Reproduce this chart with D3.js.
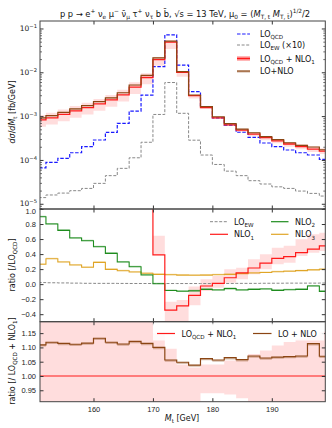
<!doctype html>
<html>
<head>
<meta charset="utf-8"/>
<script src="https://d3js.org/d3.v7.min.js"></script>
<style>
    html, body { margin: 0; padding: 0; background: #fff; }
    svg { display: block; font-family: "DejaVu Sans", sans-serif; }
    .tick text { font-size: 7.5px; fill: #222; }
    .tick line { stroke: #333; }
    .domain { display: none; }
</style>
</head>
<body>
<svg id="chart" width="332" height="428"></svg>
<script>
// bin edges, M_t in GeV
var binEdges = [150, 152, 154, 156, 158, 160, 162, 164, 166, 168, 170, 172, 174,
                176, 178, 180, 182, 184, 186, 188, 190, 192, 194, 196, 198, 200];

// top panel, dsigma/dM_t [fb/GeV]
var loQCD = [6.8e-5, 9.0e-5, 1.12e-4, 1.5e-4, 2.07e-4, 2.93e-4, 4.35e-4, 7.0e-4, 1.34e-3, 3.1e-3,
             1.38e-2, 7.35e-2, 1.5e-2, 3.7e-3, 1.68e-3, 9.4e-4, 6.4e-4, 4.4e-4, 3.36e-4, 2.5e-4,
             2.06e-4, 1.73e-4, 1.5e-4, 1.33e-4, 1.06e-4];
var loEWx10 = [1.42e-5, 1.63e-5, 1.8e-5, 2.04e-5, 2.3e-5, 3.0e-5, 4.5e-5, 6.6e-5, 1.15e-4, 2.6e-4,
               1.12e-3, 6.0e-3, 1.19e-3, 2.9e-4, 1.33e-4, 8.1e-5, 5.7e-5, 4.5e-5, 3.45e-5, 2.9e-5,
               2.5e-5, 2.3e-5, 2.0e-5, 1.77e-5, 1.54e-5];
var loQCDnlo1 = [8.4e-4, 9.4e-4, 1.12e-3, 1.35e-3, 1.6e-3, 1.95e-3, 2.4e-3, 3.15e-3, 4.7e-3, 7.8e-3,
                 2.0e-2, 5.0e-2, 1.02e-2, 3.0e-3, 1.6e-3, 9.4e-4, 6.5e-4, 4.9e-4, 4.0e-4, 3.3e-4,
                 2.8e-4, 2.37e-4, 2.06e-4, 1.82e-4, 1.64e-4];
// scale band of LO_QCD + NLO_1, relative to its central value
var bandUp = [1.30, 1.30, 1.30, 1.30, 1.30, 1.30, 1.30, 1.30, 1.30, 1.25,
              1.15, 1.095, 1.04, 1.03, 1.04, 1.04, 1.054, 1.054, 1.077, 1.089,
              1.107, 1.119, 1.131, 1.143, 1.155];
var bandDn = [0.70, 0.70, 0.70, 0.70, 0.70, 0.70, 0.70, 0.70, 0.70, 0.70,
              0.72, 0.70, 0.80, 0.86, 0.94, 0.94, 0.935, 0.922, 0.89, 0.88,
              0.88, 0.87, 0.87, 0.86, 0.86];

// bottom panel, (LO + NLO) / (LO_QCD + NLO_1)
var ratioFull = [1.109, 1.118, 1.114, 1.111, 1.115, 1.132, 1.118, 1.112, 1.121, 1.114,
                 1.100, 1.056, 1.048, 1.038, 1.061, 1.056, 1.064, 1.057, 1.070, 1.063,
                 1.066, 1.068, 1.070, 1.113, 1.069];

// middle panel, ratios to LO_QCD
var nlo1 = [11.3, 9.4, 9.0, 8.0, 6.7, 5.7, 4.5, 3.5, 2.5, 1.5,
            0.39, -0.345, -0.29, -0.15, -0.025, 0.01, 0.085, 0.15, 0.215, 0.28,
            0.343, 0.365, 0.42, 0.465, 0.51];
var nlo1Lo = [9.0, 7.5, 7.2, 6.4, 5.4, 4.6, 3.6, 2.8, 2.0, 1.1,
              0.39, -0.6, -0.6, -0.28, -0.092, -0.048, 0.019, 0.064, 0.13, 0.197,
              0.264, 0.285, 0.374, 0.418, 0.44];
var nlo1Hi = [13.6, 11.3, 10.8, 9.6, 8.0, 6.8, 5.4, 4.2, 3.0, 1.8,
              0.645, -0.235, -0.21, -0.03, 0.064, 0.108, 0.197, 0.218, 0.33, 0.397,
              0.485, 0.51, 0.597, 0.663, 0.685];
var nlo2 = [0.897, 0.80, 0.716, 0.614, 0.578, 0.498, 0.41, 0.294, 0.232, 0.121,
            0.005, -0.085, -0.095, -0.09, -0.07, -0.078, -0.06, -0.078, -0.07, -0.065,
            -0.083, -0.074, -0.07, -0.025, -0.096];
var nlo3 = [0.264, 0.338, 0.294, 0.254, 0.224, 0.29, 0.197, 0.178, 0.161, 0.144,
            0.13, 0.125, 0.12, 0.118, 0.12, 0.125, 0.13, 0.14, 0.148, 0.155,
            0.165, 0.172, 0.18, 0.19, 0.198];

var yTicksTop = [1e-5, 1e-4, 1e-3, 1e-2, 1e-1];
var yTicksMid = [-0.4, -0.2, 0.0, 0.2, 0.4, 0.6, 0.8, 1.0];
var yTicksBot = [0.95, 1.00, 1.05, 1.10, 1.15];
var xTicks = [160, 170, 180, 190];

var RED = "#ff1a1a", BROWN = "#8b4513", BLUE = "#1a1aff", GREY = "#888",
    GREEN = "#1e8c1e", GOLD = "#e0a526";

var svg = d3.select("#chart");
var L = 40, R = 325.3, T1 = 21, B1 = 209, B2 = 321.7, B3 = 401.7;

var x = d3.scaleLinear().domain([151, 199]).range([L, R]);
var y1 = d3.scaleLog().domain([7.8e-6, 0.152]).range([B1, T1]);
var y2 = d3.scaleLinear().domain([-0.5, 1.0]).range([B2, B1]);
var y3 = d3.scaleLinear().domain([0.91, 1.19]).range([B3, B2]);

// text with sub/superscripts: parts = [[text, mode]]
function rich(sel, parts, fs) {
    var shift = 0;
    parts.forEach(function(p) {
        var t = p[0], m = p[1];
        var target = m === "sub" ? fs * 0.3 : (m === "sup" ? -fs * 0.4 : 0);
        var ts = sel.append("tspan").text(t).attr("dy", target - shift);
        shift = target;
        if (m === "sub" || m === "sup") ts.attr("font-size", fs * 0.7);
        if (m === "it") ts.attr("font-style", "italic");
    });
}

function steps(vals) {
    var pts = vals.map(function(v, i) { return [binEdges[i], v]; });
    pts.push([binEdges[vals.length], vals[vals.length - 1]]);
    return pts;
}

function stepLine(ys) {
    return d3.line().curve(d3.curveStepAfter)
        .x(function(d) { return x(d[0]); })
        .y(function(d) { return ys(d[1]); });
}

function band(g, ys, lo, hi, color, op) {
    var pts = lo.map(function(v, i) { return [binEdges[i], v, hi[i]]; });
    pts.push([binEdges[lo.length], lo[lo.length - 1], hi[hi.length - 1]]);
    g.append("path")
        .attr("d", d3.area().curve(d3.curveStepAfter)
            .x(function(d) { return x(d[0]); })
            .y0(function(d) { return ys(d[1]); })
            .y1(function(d) { return ys(d[2]); })(pts))
        .attr("fill", color).attr("fill-opacity", op).attr("stroke", "none");
}

function hist(g, ys, vals, color, w, dash) {
    g.append("path")
        .attr("d", stepLine(ys)(steps(vals)))
        .attr("fill", "none").attr("stroke", color).attr("stroke-width", w)
        .attr("stroke-dasharray", dash || null);
}

function panel(id, top, bottom) {
    svg.append("clipPath").attr("id", id)
        .append("rect").attr("x", L).attr("y", top).attr("width", R - L).attr("height", bottom - top);
    return svg.append("g").attr("clip-path", "url(#" + id + ")");
}

// ---------- top panel ----------
var g1 = panel("c1", T1, B1);
var redTop = loQCDnlo1;
var fullTop = loQCDnlo1.map(function(v, i) { return v * ratioFull[i]; });
band(g1, y1, redTop.map(function(v, i) { return v * bandDn[i]; }),
             redTop.map(function(v, i) { return v * bandUp[i]; }), RED, 0.15);
band(g1, y1, fullTop.map(function(v) { return v * 0.975; }), fullTop, BROWN, 0.3);
hist(g1, y1, loEWx10, GREY, 1, "3,1.6");
hist(g1, y1, loQCD, BLUE, 1.2, "3.5,1.6");
hist(g1, y1, redTop, RED, 1.3);
hist(g1, y1, fullTop, BROWN, 1.2);

// ---------- middle panel ----------
var g2 = panel("c2", B1, B2);
var ewRatio = loEWx10.map(function(v, i) { return v / 10 / loQCD[i]; });
band(g2, y2, nlo1Lo, nlo1Hi, RED, 0.15);
band(g2, y2, nlo2, nlo2.map(function(v) { return v + 0.014; }), GREEN, 0.35);
band(g2, y2, nlo3, nlo3.map(function(v) { return v + 0.012; }), GOLD, 0.35);
hist(g2, y2, ewRatio, GREY, 1, "3,1.6");
hist(g2, y2, nlo3, GOLD, 1.1);
hist(g2, y2, nlo2, GREEN, 1.1);
hist(g2, y2, nlo1, RED, 1.2);

// ---------- bottom panel ----------
var g3 = panel("c3", B2, B3);
band(g3, y3, bandDn, bandUp, RED, 0.15);
band(g3, y3, ratioFull.map(function(v) { return v - 0.006; }), ratioFull, BROWN, 0.35);
g3.append("line").attr("x1", L).attr("x2", R).attr("y1", y3(1)).attr("y2", y3(1))
    .attr("stroke", RED).attr("stroke-width", 1.2);
hist(g3, y3, ratioFull, BROWN, 1.2);

// ---------- axes ----------
function xAxes(top, bottom, labels) {
    svg.append("g").attr("transform", "translate(0," + bottom + ")")
        .call(d3.axisBottom(x).tickValues(xTicks).tickSize(-3.5).tickPadding(5)
            .tickFormat(labels ? d3.format("d") : ""));
    svg.append("g").attr("transform", "translate(0," + top + ")")
        .call(d3.axisTop(x).tickValues(xTicks).tickSize(-3.5).tickFormat(""));
}
xAxes(T1, B1, false);
xAxes(B1, B2, false);
xAxes(B2, B3, true);

// log y axis with minor ticks
var minor = [];
[1e-5, 1e-4, 1e-3, 1e-2, 1e-1].forEach(function(d) {
    for (var k = 2; k <= 9; k++) { var v = d * k; if (v >= 7.8e-6 && v <= 0.152) minor.push(v); }
});
minor.push(8e-6, 9e-6);
[[L, 1], [R, -1]].forEach(function(s) {
    var gx = svg.append("g");
    yTicksTop.forEach(function(v) {
        gx.append("line").attr("x1", s[0]).attr("x2", s[0] + s[1] * 3.5)
            .attr("y1", y1(v)).attr("y2", y1(v)).attr("stroke", "#333");
    });
    minor.forEach(function(v) {
        gx.append("line").attr("x1", s[0]).attr("x2", s[0] + s[1] * 2)
            .attr("y1", y1(v)).attr("y2", y1(v)).attr("stroke", "#333").attr("stroke-width", 0.7);
    });
});
yTicksTop.forEach(function(v) {
    var t = svg.append("text").attr("x", L - 3).attr("y", y1(v) + (v === 1e-5 ? 1.3 : 2.5))
        .attr("text-anchor", "end").attr("font-size", 7.5).attr("fill", "#222");
    rich(t, [["10", "n"], ["\u2212" + Math.round(-Math.log10(v)), "sup"]], 7.5);
});

function yLinAxes(ys, ticks, fmt) {
    var ax = svg.append("g").attr("transform", "translate(" + L + ",0)")
        .call(d3.axisLeft(ys).tickValues(ticks).tickSize(-3.5).tickPadding(4).tickFormat(fmt));
    svg.append("g").attr("transform", "translate(" + R + ",0)")
        .call(d3.axisRight(ys).tickValues(ticks).tickSize(-3.5).tickFormat(""));
    return ax;
}
var midAx = yLinAxes(y2, yTicksMid, function(d) { return d3.format(".1f")(d).replace("-", "\u2212"); });
midAx.selectAll(".tick text").filter(function(d) { return d === 1.0; }).attr("y", 2.2);
yLinAxes(y3, yTicksBot, d3.format(".2f"));
svg.selectAll(".tick text").attr("font-size", 7.5);

// frames
[[T1, B1], [B1, B2], [B2, B3]].forEach(function(p) {
    svg.append("rect").attr("x", L).attr("y", p[0]).attr("width", R - L).attr("height", p[1] - p[0])
        .attr("fill", "none").attr("stroke", "#444").attr("stroke-width", 1);
});

// ---------- legends ----------
var lg = svg.append("g").attr("font-size", 8).attr("fill", "#111");
function lgLine(x0, x1, yy, color, dash, w) {
    lg.append("line").attr("x1", x0).attr("x2", x1).attr("y1", yy).attr("y2", yy)
        .attr("stroke", color).attr("stroke-width", w || 1.2).attr("stroke-dasharray", dash || null);
}
function lgText(x0, yy, parts) {
    rich(lg.append("text").attr("x", x0).attr("y", yy + 3), parts, 8);
}
// top
lgLine(237, 250, 34, BLUE, "3.5,1.6");
lgText(260, 34, [["LO", "n"], ["QCD", "sub"]]);
lgLine(237, 250, 45, GREY, "3,1.6", 1);
lgText(260, 45, [["LO", "n"], ["EW", "sub"], [" (\u00d710)", "n"]]);
lg.append("rect").attr("x", 237).attr("y", 56.3).attr("width", 13).attr("height", 4.4)
    .attr("fill", RED).attr("fill-opacity", 0.45);
lgLine(237, 250, 58.5, RED, null, 1.3);
lgText(260, 58.5, [["LO", "n"], ["QCD", "sub"], [" + NLO", "n"], ["1", "sub"]]);
lg.append("rect").attr("x", 237).attr("y", 71).attr("width", 13).attr("height", 1.6)
    .attr("fill", BROWN).attr("fill-opacity", 0.35);
lgLine(237, 250, 71, BROWN);
lgText(260, 71, [["LO+NLO", "n"]]);

// middle
lgLine(210, 228, 221.7, GREY, "3,1.6", 1);
lgText(234, 221.7, [["LO", "n"], ["EW", "sub"]]);
lgLine(210, 228, 234.3, RED);
lgText(234, 234.3, [["NLO", "n"], ["1", "sub"]]);
lgLine(271, 288.5, 221.7, GREEN);
lgText(295, 221.7, [["NLO", "n"], ["2", "sub"]]);
lgLine(271, 288.5, 234.3, GOLD);
lgText(295, 234.3, [["NLO", "n"], ["3", "sub"]]);

// bottom
lg.insert("rect", ":first-child").attr("x", 153).attr("y", 323.5).attr("width", 171).attr("height", 17)
    .attr("fill", "#fff").attr("fill-opacity", 0.85);
lgLine(157, 175, 333.5, RED);
lgText(181.5, 333.5, [["LO", "n"], ["QCD", "sub"], [" + NLO", "n"], ["1", "sub"]]);
lgLine(253, 271.5, 333.5, BROWN);
lgText(278, 333.5, [["LO + NLO", "n"]]);

// ---------- labels ----------
var title = svg.append("text").attr("x", 185).attr("y", 16.5).attr("text-anchor", "middle")
    .attr("font-size", 8.3).attr("fill", "#111");
rich(title, [["p p \u2192 e", "n"], ["+", "sup"], [" \u03bd", "n"], ["e", "sub"], [" \u03bc", "n"], ["\u2212", "sup"],
    [" \u03bd\u0304", "n"], ["\u03bc", "sub"], [" \u03c4", "n"], ["+", "sup"], [" \u03bd", "n"], ["\u03c4", "sub"],
    [" b b\u0304, \u221as = 13 TeV, \u03bc", "n"], ["0", "sub"], [" = (", "n"], ["M", "it"], ["T, t", "sub"],
    [" ", "n"], ["M", "it"], ["T, t\u0304", "sub"], [")", "n"], ["1/2", "sup"], ["/2", "n"]], 8.3);

function yLabel(cx, cy, parts) {
    var t = svg.append("text").attr("transform", "translate(" + cx + "," + cy + ") rotate(-90)")
        .attr("text-anchor", "middle").attr("font-size", 8).attr("fill", "#111");
    rich(t, parts, 8);
}
yLabel(15, 112, [["d\u03c3", "it"], ["/", "n"], ["dM", "it"], ["t", "sub"], [" [fb/GeV]", "n"]]);
yLabel(15, 265, [["ratio [/LO", "n"], ["QCD", "sub"], ["]", "n"]]);
yLabel(15, 361, [["ratio [/ LO", "n"], ["QCD", "sub"], [" + NLO", "n"], ["1", "sub"], ["]", "n"]]);

var xl = svg.append("text").attr("x", 182).attr("y", 421).attr("text-anchor", "middle")
    .attr("font-size", 8).attr("fill", "#111");
rich(xl, [["M", "it"], ["t", "sub"], [" [GeV]", "n"]], 8);
</script>
</body>
</html>
